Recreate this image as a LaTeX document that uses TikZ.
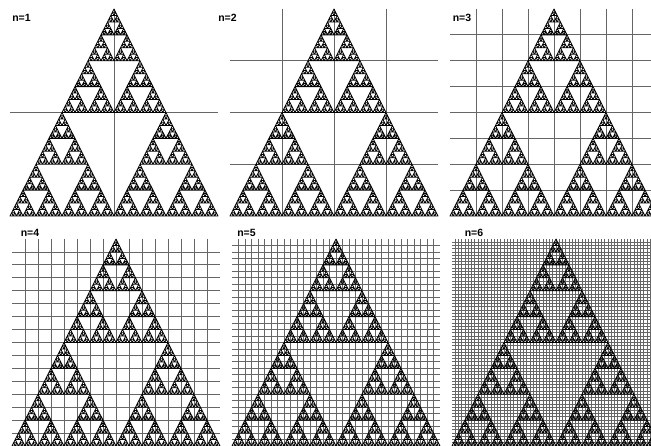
\documentclass[tikz,border=0pt]{standalone}
\usepackage{fontspec}
\setmainfont{Liberation Sans}
% Sierpinski recursion: depth, apex x, apex y, half width, height (dimensions, y up)
\def\sierp#1#2#3#4#5{%
  \ifnum#1=0\relax
    \pgfpathmoveto{\pgfqpoint{#2}{#3}}%
    \pgfpathlineto{\pgfqpoint{\dimexpr#2-#4\relax}{\dimexpr#3-#5\relax}}%
    \pgfpathlineto{\pgfqpoint{\dimexpr#2+#4\relax}{\dimexpr#3-#5\relax}}%
    \pgfpathclose
  \else
    \edef\sierpnext{%
      \noexpand\sierp{\the\numexpr#1-1\relax}{#2}{#3}{\the\dimexpr#4/2\relax}{\the\dimexpr#5/2\relax}%
      \noexpand\sierp{\the\numexpr#1-1\relax}{\the\dimexpr#2-#4/2\relax}{\the\dimexpr#3-#5/2\relax}{\the\dimexpr#4/2\relax}{\the\dimexpr#5/2\relax}%
      \noexpand\sierp{\the\numexpr#1-1\relax}{\the\dimexpr#2+#4/2\relax}{\the\dimexpr#3-#5/2\relax}{\the\dimexpr#4/2\relax}{\the\dimexpr#5/2\relax}%
    }%
    \expandafter\sierpnext
  \fi}
\tikzset{
  gridline/.style={draw=black!60, line width=0.85pt},
  panellabel/.style={inner sep=0pt, font=\bfseries\fontsize{10.5}{10.5}\selectfont},
}
% panel: left, top, n
\newcommand\sierpanel[3]{%
  \pgfmathtruncatemacro\cells{2^#3}%
  \pgfmathtruncatemacro\last{\cells-1}%
  \foreach \i in {1,...,\last}{%
    \draw[gridline] ({#1+\i*208/\cells},#2) -- ({#1+\i*208/\cells},{#2+207});
    \draw[gridline] (#1,{#2+\i*207/\cells}) -- ({#1+208},{#2+\i*207/\cells});
  }%
  \begin{pgfscope}
    \pgfsetlinewidth{0.8pt}%
    \pgfsetstrokecolor{black}%
    \pgfsetroundjoin
    \sierp{6}{\the\dimexpr#1pt+104pt\relax}{-#2pt}{104pt}{207pt}%
    \pgfusepath{stroke}%
  \end{pgfscope}%
}
\begin{document}
\begin{tikzpicture}[x=1pt,y=-1pt]
  \useasboundingbox[fill=white] (0,0) rectangle (651,446);
  \clip (0,0) rectangle (651,446);
  \sierpanel{10}{9}{1}
  \sierpanel{230}{9}{2}
  \sierpanel{450}{9}{3}
  \sierpanel{12}{239}{4}
  \sierpanel{232}{239}{5}
  \sierpanel{452}{239}{6}
  \node[panellabel] (l1) at (21.5,17.5) {n=1};
  \node[panellabel] (l2) at (227.5,17.5) {n=2};
  \node[panellabel] (l3) at (462,17.5) {n=3};
  \node[panellabel] (l4) at (30,233) {n=4};
  \node[panellabel] (l5) at (246.5,233) {n=5};
  \node[panellabel] (l6) at (474,233) {n=6};
\end{tikzpicture}
\end{document}
